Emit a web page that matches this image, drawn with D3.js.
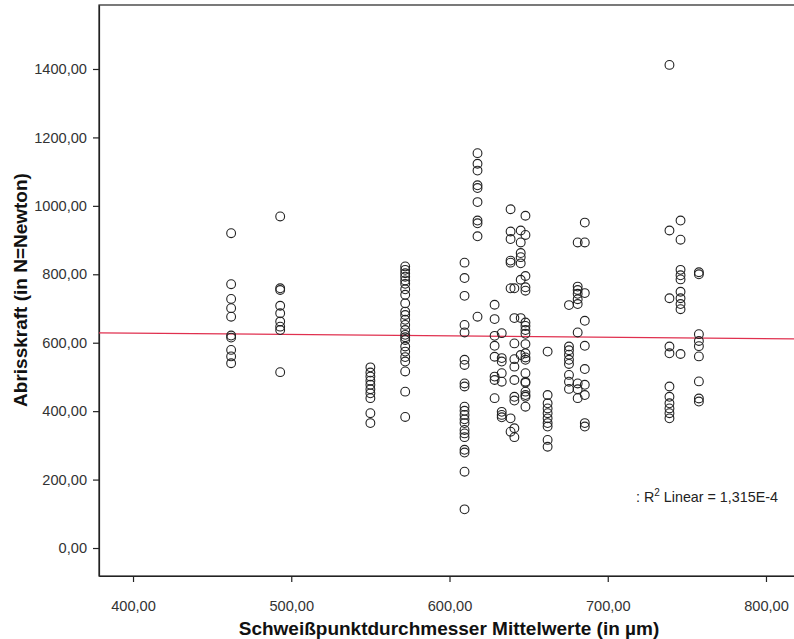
<!DOCTYPE html>
<html>
<head>
<meta charset="utf-8">
<script src="https://cdn.jsdelivr.net/npm/d3@7/dist/d3.min.js"></script>
<style>
  html, body { margin: 0; padding: 0; background: #fff; }
  svg { display: block; }
  .tick text { font-family: "Liberation Sans", Arial, sans-serif; }
</style>
</head>
<body>
<svg id="chart" width="794" height="639"></svg>
<script>
// Mean weld-spot diameter (µm) for each measurement group
const diameters = [462, 493, 550, 572, 609.5, 617.7, 628.5, 633, 638.6, 641, 645, 648, 662, 675.5, 681, 685.5, 739, 746, 757.6];

// Pull-off force (N) measured in each group, same order as diameters
const forces = [
  [920, 771, 728, 701, 676, 621, 615, 579, 560, 540],
  [969, 759, 754, 708, 686, 662, 647, 637, 514],
  [528, 513, 501, 489, 477, 464, 452, 438, 394, 365],
  [823, 813, 803, 793, 782, 772, 756, 740, 715, 691, 681, 667, 652, 637, 623, 616, 608, 589, 574, 558, 545, 516, 457, 383],
  [834, 789, 737, 652, 630, 550, 535, 481, 472, 413, 401, 389, 376, 365, 345, 335, 324, 287, 279, 223, 113],
  [1154, 1123, 1103, 1060, 1052, 1011, 957, 949, 911, 676],
  [711, 669, 620, 591, 559, 501, 491, 438],
  [628, 555, 545, 511, 486, 398, 389, 382],
  [990, 925, 903, 840, 834, 759, 379, 340],
  [759, 672, 598, 552, 530, 491, 442, 431, 350, 324],
  [928, 893, 862, 850, 832, 784, 672, 564],
  [971, 915, 795, 762, 752, 659, 649, 637, 626, 596, 569, 557, 550, 511, 486, 483, 457, 447, 442, 413],
  [574, 447, 423, 408, 394, 379, 365, 355, 316, 296],
  [710, 589, 578, 565, 550, 538, 506, 486, 465],
  [893, 764, 754, 743, 727, 713, 630, 481, 464, 438],
  [951, 893, 745, 664, 591, 523, 477, 447, 365, 355],
  [1412, 928, 730, 589, 569, 472, 442, 423, 408, 394, 379],
  [957, 901, 813, 797, 785, 749, 730, 713, 698, 567],
  [806, 800, 625, 605, 590, 560, 487, 437, 428]
];

// Axis ticks
const xTicks = [400, 500, 600, 700, 800];
const yTicks = [0, 200, 400, 600, 800, 1000, 1200, 1400];

// Linear fit: force = intercept + slope * diameter
const fitIntercept = 644.4;
const fitSlope = -0.0407;

const xTitle = "Schweißpunktdurchmesser Mittelwerte (in µm)";
const yTitle = "Abrisskraft (in N=Newton)";

const points = [];
diameters.forEach((d, i) => forces[i].forEach(f => points.push({ d, f })));

const svg = d3.select("#chart");
const plot = { left: 99, top: 5, right: 797, bottom: 576 };

const x = d3.scaleLinear().domain([378.5, 819.6]).range([plot.left, plot.right]);
const y = d3.scaleLinear().domain([-81.8, 1587]).range([plot.bottom, plot.top]);

const fmt = v => v.toFixed(2).replace(".", ",");

// frame
svg.append("rect")
  .attr("x", plot.left).attr("y", plot.top)
  .attr("width", plot.right - plot.left).attr("height", plot.bottom - plot.top)
  .attr("fill", "none").attr("stroke", "#222").attr("stroke-width", 1.2);

// axes
const xAxis = svg.append("g")
  .attr("transform", `translate(0,${plot.bottom})`)
  .call(d3.axisBottom(x).tickValues(xTicks).tickFormat(fmt).tickSize(6).tickPadding(19).tickSizeOuter(0));
const yAxis = svg.append("g")
  .attr("transform", `translate(${plot.left},0)`)
  .call(d3.axisLeft(y).tickValues(yTicks).tickFormat(fmt).tickSize(6).tickPadding(6).tickSizeOuter(0));

[xAxis, yAxis].forEach(g => {
  g.select(".domain").attr("stroke", "#222").attr("stroke-width", 1.2);
  g.selectAll(".tick line").attr("stroke", "#222").attr("stroke-width", 1.2);
  g.selectAll(".tick text").attr("fill", "#333").attr("font-size", "14.6px");
});

// fit line
const x0 = x.domain()[0], x1 = x.domain()[1];
svg.append("line")
  .attr("x1", x(x0)).attr("y1", y(fitIntercept + fitSlope * x0))
  .attr("x2", x(x1)).attr("y2", y(fitIntercept + fitSlope * x1))
  .attr("stroke", "#e0304f").attr("stroke-width", 1.3);

// points
svg.append("g").selectAll("circle")
  .data(points).join("circle")
  .attr("cx", p => x(p.d)).attr("cy", p => y(p.f))
  .attr("r", 4.4)
  .attr("fill", "none").attr("stroke", "#222").attr("stroke-width", 1.1);

// fit annotation
const ann = svg.append("text")
  .attr("x", 636).attr("y", 502)
  .attr("font-family", "Liberation Sans, Arial, sans-serif")
  .attr("font-size", "14.3px").attr("fill", "#222");
ann.append("tspan").text(": R");
ann.append("tspan").attr("dy", -6).attr("font-size", "10px").text("2");
ann.append("tspan").attr("dy", 6).text(" Linear = 1,315E-4");

// axis titles
svg.append("text")
  .attr("x", 449).attr("y", 635)
  .attr("text-anchor", "middle")
  .attr("font-family", "Liberation Sans, Arial, sans-serif")
  .attr("font-weight", "bold").attr("font-size", "19px").attr("fill", "#111")
  .text(xTitle);
svg.append("text")
  .attr("transform", "translate(27,290) rotate(-90)")
  .attr("text-anchor", "middle")
  .attr("font-family", "Liberation Sans, Arial, sans-serif")
  .attr("font-weight", "bold").attr("font-size", "19px").attr("fill", "#111")
  .text(yTitle);
</script>
</body>
</html>
